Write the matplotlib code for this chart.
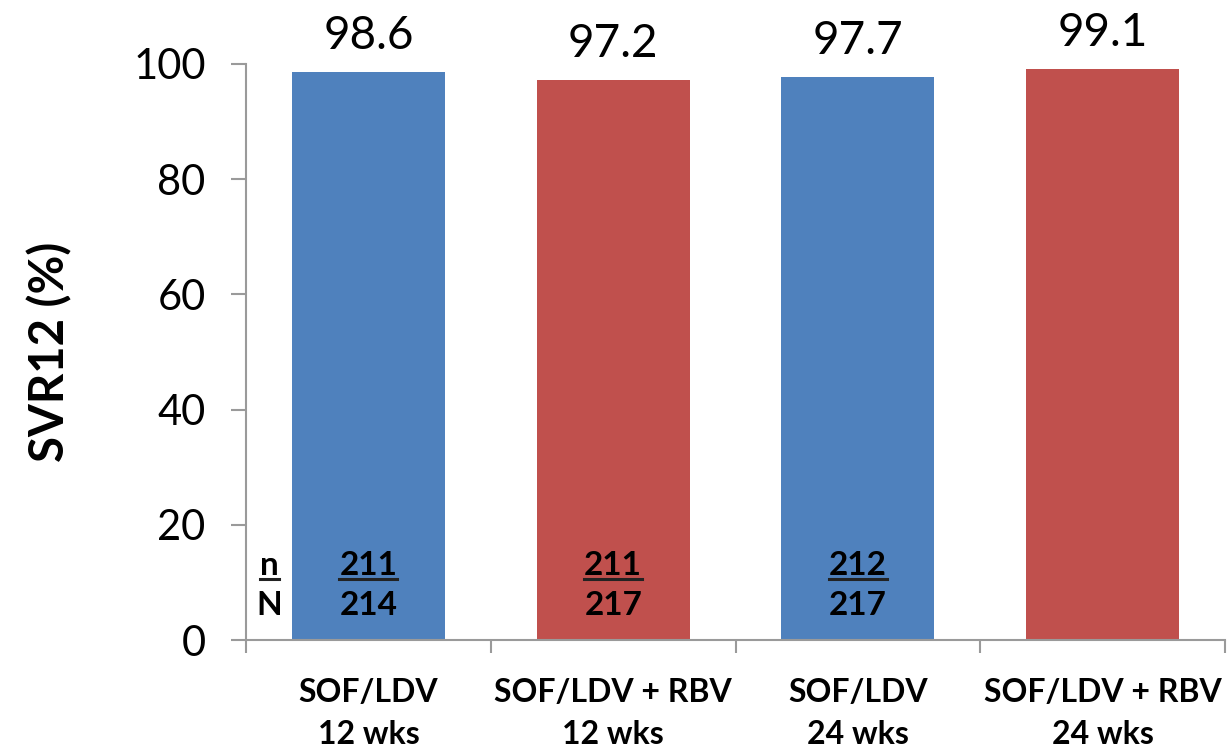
import numpy as np
import matplotlib.pyplot as plt
from matplotlib.lines import Line2D

plt.rcParams['font.family'] = ['Lato', 'DejaVu Sans']

groups = ['SOF/LDV\n12 wks', 'SOF/LDV + RBV\n12 wks', 'SOF/LDV\n24 wks', 'SOF/LDV + RBV\n24 wks']
svr = [98.6, 97.2, 97.7, 99.1]
n_resp = ['211', '211', '212', '']
n_total = ['214', '217', '217', '']
colors = ['#4F81BD', '#C0504D', '#4F81BD', '#C0504D']

fig = plt.figure(figsize=(12.27, 7.49), dpi=100)
ax = fig.add_axes([0.2005, 0.1455, 0.798, 0.7691])

x = np.arange(len(groups))
ax.bar(x, svr, width=0.625, color=colors)

for xi, v in zip(x, svr):
    ax.text(xi, v + 2.6, f'{v:.1f}', ha='center', va='bottom', fontsize=33)

# n / N inside the bars, top number underlined
underlined = []
for xi, a, b in zip(x, n_resp, n_total):
    if a:
        underlined.append(ax.text(xi, 12.9, a, ha='center', va='center', fontsize=24, fontweight='bold'))
        ax.text(xi, 6.0, b, ha='center', va='center', fontsize=24, fontweight='bold')
underlined.append(ax.text(-0.405, 12.9, 'n', ha='center', va='center', fontsize=24, fontweight='bold'))
ax.text(-0.405, 6.0, 'N', ha='center', va='center', fontsize=24, fontweight='bold')

ax.set_xlim(-0.5, 3.5)
ax.set_ylim(0, 100)
ax.set_yticks([0, 20, 40, 60, 80, 100])
ax.set_xticks(x)
ax.set_xticklabels(groups, fontsize=23, fontweight='bold', linespacing=1.55)
ax.set_xticks(np.arange(-0.5, 4, 1), minor=True)

for s in ['top', 'right']:
    ax.spines[s].set_visible(False)
for s in ['left', 'bottom']:
    ax.spines[s].set_color('#9A9A9A')
    ax.spines[s].set_linewidth(1.5)

ax.tick_params(axis='y', labelsize=30, length=11, width=1.5, color='#9A9A9A', pad=18)
ax.tick_params(axis='x', which='major', length=0, pad=27)
ax.tick_params(axis='x', which='minor', length=9, width=1.5, color='#9A9A9A')

ax.set_ylabel('SVR12 (%)', fontsize=34, fontweight='bold', labelpad=44)

# underline drawn from each text's rendered extent
fig.canvas.draw()
r = fig.canvas.get_renderer()
for t in underlined:
    bb = t.get_window_extent(r)
    y = bb.y0 + 1
    fig.add_artist(Line2D([bb.x0, bb.x1], [y, y], transform=None, color='#222222', lw=2.2))

plt.savefig('out.png', dpi=100)
